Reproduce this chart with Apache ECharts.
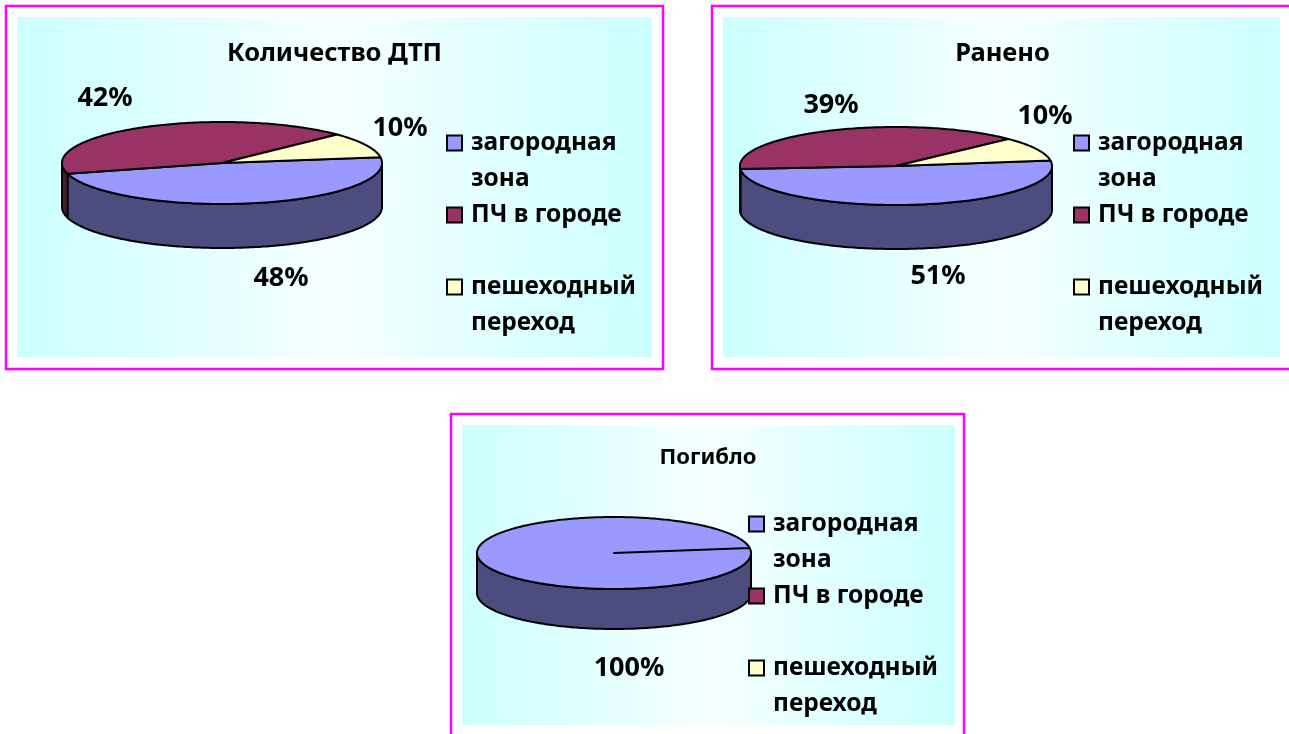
<!DOCTYPE html>
<html>
<head>
<meta charset="utf-8">
<script src="https://cdn.jsdelivr.net/npm/echarts@6/dist/echarts.min.js"></script>
<style>
html,body{margin:0;padding:0;background:#ffffff;}
#main{width:1289px;height:734px;}
</style>
</head>
<body>
<div id="main"></div>
<script>
// ---- data ----
const categories = ['загородная зона', 'ПЧ в городе', 'пешеходный переход'];
const legendLines = {
  'загородная зона': ['загородная', 'зона'],
  'ПЧ в городе': ['ПЧ в городе', ' '],
  'пешеходный переход': ['пешеходный', 'переход']
};
const chartTitles = ['Количество ДТП', 'Ранено', 'Погибло'];
const accidentValues = [48, 42, 10];
const injuredValues = [51, 39, 10];
const killedValues = [100, 0, 0];
const chartValues = [accidentValues, injuredValues, killedValues];

// ---- styles / layout ----
const topColors = ['#9999ff', '#993366', '#ffffcc'];
const sideColors = ['#4c4c7e', '#4d1a33', '#808066'];
const FONT = "'Noto Sans', 'Open Sans', sans-serif";

const layouts = [
  { border: [6, 6, 657, 363], inner: [17, 17, 635, 340],
    cx: 222, cy: 163, rx: 160, ry: 41, depth: 44, startAngle: -8,
    titleX: 334.5, titleY: 54, titleSize: 25.5,
    legendLeft: 446, legendTop: 89,
    labelOffsets: [[59, 115], [-117, -65], [178, -35]] },
  { border: [712, 6, 600, 363], inner: [723, 17, 557, 340],
    cx: 896, cy: 166, rx: 156, ry: 39, depth: 44, startAngle: -8,
    titleX: 1002.5, titleY: 54, titleSize: 25.5,
    legendLeft: 1073, legendTop: 89,
    labelOffsets: [[42, 110], [-65, -61], [149, -50]] },
  { border: [451, 414, 513, 400], inner: [462, 425, 493, 300],
    cx: 614, cy: 553, rx: 137, ry: 36, depth: 40, startAngle: -8,
    titleX: 708, titleY: 458, titleSize: 22,
    legendLeft: 748, legendTop: 470,
    labelOffsets: [[15, 115], [0, 0], [0, 0]] }
];

const LINE_H = 36;

function arcPoints(L, a0, a1, dy) {
  const pts = [];
  const n = Math.max(2, Math.ceil(Math.abs(a1 - a0)));
  for (let i = 0; i <= n; i++) {
    const a = (a0 + (a1 - a0) * i / n) * Math.PI / 180;
    pts.push([L.cx + L.rx * Math.cos(a), L.cy + L.ry * Math.sin(a) + dy]);
  }
  return pts;
}

function makeSeries(ci, k) {
  const L = layouts[ci];
  const vals = chartValues[ci];
  return {
    type: 'custom',
    name: categories[k],
    coordinateSystem: 'none',
    itemStyle: { color: topColors[k] },
    data: [[vals[k]]],
    silent: true,
    renderItem: function (params, api) {
      const v = api.value(0);
      const children = [];
      if (!v) return { type: 'group', children: children };
      const total = vals.reduce((a, b) => a + b, 0);
      let before = 0;
      for (let i = 0; i < k; i++) before += vals[i];
      const a0 = L.startAngle + before / total * 360;
      const a1 = a0 + v / total * 360;
      // visible side wall (front half: 0..180 and 360..540)
      [0, 360].forEach(function (base) {
        const s = Math.max(a0, base), e = Math.min(a1, base + 180);
        if (e > s) {
          const pts = arcPoints(L, s, e, 0).concat(arcPoints(L, e, s, L.depth));
          children.push({
            type: 'polygon', z2: 1,
            shape: { points: pts },
            style: { fill: sideColors[k], stroke: '#000', lineWidth: 2, lineJoin: 'round' }
          });
        }
      });
      // top face
      const topPts = [[L.cx, L.cy]].concat(arcPoints(L, a0, a1, 0));
      children.push({
        type: 'polygon', z2: 10,
        shape: { points: topPts },
        style: { fill: topColors[k], stroke: '#000', lineWidth: 2, lineJoin: 'round' }
      });
      // percentage label
      const off = L.labelOffsets[k];
      children.push({
        type: 'text', z2: 20,
        x: L.cx + off[0], y: L.cy + off[1],
        style: {
          text: Math.round(v / total * 100) + '%',
          font: 'bold 27px ' + FONT,
          fill: '#000', align: 'center', verticalAlign: 'middle'
        }
      });
      return { type: 'group', children: children };
    }
  };
}

const series = [];
for (let ci = 0; ci < 3; ci++) for (let k = 0; k < 3; k++) series.push(makeSeries(ci, k));

const graphics = [];
layouts.forEach(function (L) {
  graphics.push({
    type: 'rect', z: -10, silent: true,
    shape: { x: L.inner[0], y: L.inner[1], width: L.inner[2], height: L.inner[3] },
    style: {
      fill: new echarts.graphic.LinearGradient(0, 0, 1, 0, [
        { offset: 0, color: '#ccffff' },
        { offset: 0.5, color: '#f6ffff' },
        { offset: 1, color: '#ccffff' }
      ])
    }
  });
  graphics.push({
    type: 'rect', z: -9, silent: true,
    shape: { x: L.border[0], y: L.border[1], width: L.border[2], height: L.border[3] },
    style: { fill: 'none', stroke: '#ff00ff', lineWidth: 2.5 }
  });
});

const option = {
  animation: false,
  backgroundColor: '#ffffff',
  title: layouts.map(function (L, i) {
    return {
      text: chartTitles[i],
      left: L.titleX, top: L.titleY - 18, textAlign: 'center',
      padding: 0,
      textStyle: { fontFamily: FONT, fontWeight: 'bold', fontSize: L.titleSize, lineHeight: 36, color: '#000' }
    };
  }),
  legend: layouts.map(function (L) {
    return {
      orient: 'vertical',
      left: L.legendLeft, top: L.legendTop,
      data: categories,
      icon: 'rect',
      itemWidth: 15, itemHeight: 15,
      itemGap: 72 - 3 * LINE_H,
      padding: 0,
      selectedMode: false,
      itemStyle: { borderColor: '#000', borderWidth: 2 },
      formatter: function (name) {
        const l = legendLines[name];
        return ' \n' + l[0] + '\n' + l[1];
      },
      textStyle: { fontFamily: FONT, fontWeight: 'bold', fontSize: 24.5, lineHeight: LINE_H, color: '#000', padding: [0, 0, 0, 4] }
    };
  }),
  graphic: { elements: graphics },
  series: series
};

const chart = echarts.init(document.getElementById('main'), null, { renderer: 'canvas' });
chart.setOption(option);
</script>
</body>
</html>
